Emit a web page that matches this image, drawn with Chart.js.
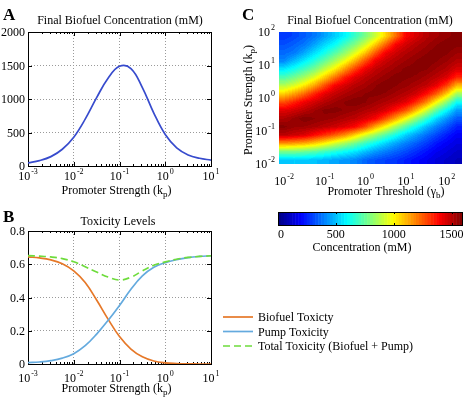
<!DOCTYPE html>
<html>
<head>
<meta charset="utf-8">
<script src="https://cdn.jsdelivr.net/npm/chart.js"></script>
<style>
  body { margin: 0; background: #fff; }
  #wrap { position: relative; width: 466px; height: 400px; overflow: hidden; }
  canvas { position: absolute; }
</style>
</head>
<body>
<div id="wrap">
  <canvas id="chartA" width="230" height="200" style="left:0;top:0"></canvas>
  <canvas id="chartB" width="466" height="200" style="left:0;top:200px"></canvas>
  <canvas id="chartC" width="236" height="205" style="left:230px;top:0"></canvas>
  <canvas id="colorbar" width="236" height="60" style="left:230px;top:200px"></canvas>
</div>
<script>
// ---- data ----
// A: final biofuel concentration vs promoter strength (kp = 10^exp)
const strengthExpA = [-3, -2.75, -2.5, -2.25, -2, -1.75, -1.5, -1.25, -1, -0.75, -0.5, -0.25, 0, 0.25, 0.5, 0.75, 1];
const concA = [45, 80, 140, 250, 430, 700, 1020, 1310, 1488, 1455, 1170, 790, 470, 270, 165, 115, 88];

// B: toxicity levels
const strengthExpB = [-3, -2.75, -2.5, -2.25, -2, -1.75, -1.5, -1.25, -1, -0.75, -0.5, -0.25, 0, 0.25, 0.5, 0.75, 1];
const biofuelTox = [0.644, 0.638, 0.626, 0.603, 0.56, 0.49, 0.385, 0.27, 0.165, 0.09, 0.043, 0.018, 0.007, 0.003, 0.001, 0, 0];
const pumpTox = [0.008, 0.012, 0.02, 0.035, 0.062, 0.11, 0.18, 0.262, 0.352, 0.45, 0.53, 0.582, 0.61, 0.628, 0.64, 0.647, 0.651];
const totalTox = [0.652, 0.649, 0.644, 0.634, 0.615, 0.585, 0.553, 0.523, 0.505, 0.522, 0.56, 0.594, 0.614, 0.63, 0.641, 0.647, 0.651];
const legendLabels = ['Biofuel Toxicty', 'Pump Toxicity', 'Total Toxicity (Biofuel + Pump)'];

// C: concentration map, rows = promoter strength exp (top to bottom), cols = threshold exp
const thresholdExpC = [-2, -1.75, -1.5, -1.25, -1, -0.75, -0.5, -0.25, 0, 0.25, 0.5, 0.75, 1, 1.25, 1.5, 1.75, 2, 2.25];
const strengthExpC = [1.875, 1.625, 1.375, 1.125, 0.875, 0.625, 0.375, 0.125, -0.125, -0.375, -0.625, -0.875, -1.125, -1.375, -1.625, -1.875];
const concC = [
  [278, 305, 340, 383, 450, 518, 585, 684, 783, 910, 1057, 1221, 1395, 1451, 1508, 1535, 1557, 1579],
  [320, 347, 382, 454, 534, 600, 701, 799, 922, 1073, 1237, 1398, 1461, 1507, 1535, 1564, 1584, 1577],
  [360, 387, 461, 544, 625, 721, 822, 943, 1083, 1255, 1406, 1468, 1511, 1537, 1561, 1588, 1572, 1544],
  [408, 493, 571, 652, 753, 856, 976, 1116, 1270, 1415, 1476, 1516, 1542, 1568, 1590, 1568, 1543, 1508],
  [562, 626, 702, 785, 902, 1016, 1159, 1303, 1422, 1487, 1520, 1548, 1575, 1579, 1569, 1536, 1507, 1451],
  [715, 772, 853, 951, 1079, 1212, 1351, 1439, 1494, 1526, 1555, 1581, 1572, 1559, 1529, 1496, 1446, 1331],
  [877, 943, 1030, 1141, 1275, 1403, 1460, 1504, 1531, 1564, 1590, 1567, 1547, 1518, 1487, 1422, 1297, 1110],
  [1068, 1141, 1234, 1342, 1432, 1484, 1520, 1546, 1568, 1577, 1560, 1531, 1504, 1465, 1378, 1247, 1072, 850],
  [1273, 1343, 1415, 1461, 1507, 1542, 1568, 1588, 1568, 1538, 1512, 1484, 1436, 1329, 1189, 993, 813, 609],
  [1436, 1465, 1498, 1537, 1575, 1579, 1560, 1542, 1513, 1490, 1448, 1361, 1262, 1097, 921, 737, 591, 440],
  [1516, 1548, 1586, 1566, 1552, 1536, 1512, 1489, 1448, 1397, 1273, 1132, 980, 827, 674, 534, 427, 333],
  [1575, 1544, 1538, 1520, 1497, 1468, 1436, 1389, 1282, 1120, 989, 847, 716, 603, 487, 397, 324, 243],
  [1493, 1471, 1446, 1379, 1316, 1247, 1168, 1055, 933, 827, 718, 620, 519, 442, 368, 303, 239, 185],
  [1167, 1144, 1118, 1072, 1004, 925, 850, 767, 677, 601, 525, 453, 394, 339, 288, 226, 186, 150],
  [783, 783, 764, 732, 693, 647, 604, 557, 499, 435, 392, 349, 312, 266, 221, 177, 149, 120],
  [513, 522, 518, 502, 482, 456, 434, 409, 354, 321, 296, 276, 241, 207, 176, 143, 118, 95]
];

// tick labels
const decadeExpsAB = [-3, -2, -1, 0, 1];
const decadeExpsC = [-2, -1, 0, 1, 2];
const concTicksA = [0, 500, 1000, 1500, 2000];
const toxTicks = [0, 0.2, 0.4, 0.6, 0.8];
const colorbarTicks = [0, 500, 1000, 1500];
const concMax = 1590;

// ---- helpers ----
const FONT = '"Liberation Serif", "Times New Roman", serif';

function jetColor(t) {
  const idx = Math.min(63, Math.max(0, Math.floor(t * 64)));
  const u = (idx + 0.5) / 64;
  const c = v => Math.round(255 * Math.min(1, Math.max(0, v)));
  return [c(1.5 - Math.abs(4 * u - 3)), c(1.5 - Math.abs(4 * u - 2)), c(1.5 - Math.abs(4 * u - 1))];
}

function bracket(arr, p) {
  const n = arr.length - 1;
  if (p <= arr[0]) return [0, 0, 0];
  if (p >= arr[n]) return [n, n, 0];
  let k = 0;
  while (arr[k + 1] < p) k++;
  return [k, k + 1, (p - arr[k]) / (arr[k + 1] - arr[k])];
}

function text(ctx, s, x, y, size, align, weight) {
  ctx.font = (weight || '') + ' ' + size + 'px ' + FONT;
  ctx.fillStyle = '#000';
  ctx.textAlign = align || 'left';
  ctx.textBaseline = 'alphabetic';
  ctx.fillText(s, x, y);
}

// 10^exp, baseline y
function pow10(ctx, x, y, exp, align) {
  const base = '10', sup = String(exp);
  ctx.font = '12px ' + FONT;
  const wb = ctx.measureText(base).width;
  ctx.font = '8px ' + FONT;
  const ws = ctx.measureText(sup).width;
  const total = wb + 1 + ws;
  const x0 = align === 'right' ? x - total : x - total / 2;
  text(ctx, base, x0, y, 12);
  text(ctx, sup, x0 + wb + 1, y - 6, 8);
}

// main + subscript + tail, centered at x, baseline y
function subText(ctx, main, sub, tail, x, y) {
  ctx.font = '12px ' + FONT;
  const w1 = ctx.measureText(main).width, w3 = ctx.measureText(tail).width;
  ctx.font = '9px ' + FONT;
  const w2 = ctx.measureText(sub).width;
  const x0 = x - (w1 + w2 + w3) / 2;
  text(ctx, main, x0, y, 12);
  text(ctx, sub, x0 + w1, y + 3, 9);
  text(ctx, tail, x0 + w1 + w2, y, 12);
}

function setTicks(values) {
  return scale => { scale.ticks = values.map(v => ({ value: v })); };
}

const gridOpts = { color: '#9a9a9a', lineWidth: 1, drawTicks: false };
const borderOpts = { display: false, dash: [1, 2] };

// frame, major/minor ticks for the line panels
function drawFrame(chart, yTicks) {
  const { ctx, chartArea: a, scales: { x, y } } = chart;
  ctx.save();
  ctx.strokeStyle = '#000';
  ctx.lineWidth = 1;
  ctx.beginPath();
  for (let d = decadeExpsAB[0]; d < decadeExpsAB[decadeExpsAB.length - 1]; d++) {
    for (let k = 2; k <= 9; k++) {
      const px = Math.round(x.getPixelForValue(k * Math.pow(10, d))) + 0.5;
      ctx.moveTo(px, a.bottom); ctx.lineTo(px, a.bottom - 2);
      ctx.moveTo(px, a.top); ctx.lineTo(px, a.top + 2);
    }
  }
  decadeExpsAB.forEach(e => {
    const px = Math.round(x.getPixelForValue(Math.pow(10, e))) + 0.5;
    ctx.moveTo(px, a.bottom); ctx.lineTo(px, a.bottom - 4);
    ctx.moveTo(px, a.top); ctx.lineTo(px, a.top + 4);
  });
  yTicks.forEach(v => {
    const py = Math.round(y.getPixelForValue(v)) + 0.5;
    ctx.moveTo(a.left, py); ctx.lineTo(a.left + 4, py);
    ctx.moveTo(a.right, py); ctx.lineTo(a.right - 4, py);
  });
  ctx.stroke();
  ctx.strokeRect(Math.round(a.left) + 0.5, Math.round(a.top) + 0.5,
                 Math.round(a.right - a.left), Math.round(a.bottom - a.top));
  ctx.restore();
}

// ---- panel A ----
new Chart(document.getElementById('chartA'), {
  type: 'scatter',
  data: {
    datasets: [{
      data: strengthExpA.map((e, i) => ({ x: Math.pow(10, e), y: concA[i] })),
      showLine: true,
      borderColor: 'rgb(55,75,205)',
      borderWidth: 1.7,
      pointRadius: 0,
      tension: 0.4
    }]
  },
  options: {
    responsive: false, animation: false, events: [],
    layout: { padding: { left: 28, top: 32, right: 19, bottom: 34 } },
    plugins: { legend: { display: false }, tooltip: { enabled: false } },
    scales: {
      x: { type: 'logarithmic', min: 1e-3, max: 10, afterBuildTicks: setTicks(decadeExpsAB.map(e => Math.pow(10, e))),
           afterFit: s => { s.height = 0; }, ticks: { display: false }, grid: gridOpts, border: borderOpts },
      y: { type: 'linear', min: 0, max: 2000, afterBuildTicks: setTicks(concTicksA),
           afterFit: s => { s.width = 0; }, ticks: { display: false }, grid: gridOpts, border: borderOpts }
    }
  },
  plugins: [{
    id: 'panelA',
    beforeDatasetsDraw(chart) { drawFrame(chart, concTicksA); },
    afterDraw(chart) {
      const { ctx, chartArea: a, scales: { x, y } } = chart;
      text(ctx, 'A', 3, 20, 17, 'left', 'bold');
      text(ctx, 'Final Biofuel Concentration (mM)', 120, 24, 12, 'center');
      concTicksA.forEach(v => text(ctx, String(v), 25, y.getPixelForValue(v) + 4, 12, 'right'));
      decadeExpsAB.forEach(e => pow10(ctx, x.getPixelForValue(Math.pow(10, e)), 180, e, 'center'));
      subText(ctx, 'Promoter Strength (k', 'p', ')', (a.left + a.right) / 2 - 3, 194);
    }
  }]
});

// ---- panel B ----
const toxColors = ['rgb(230,120,40)', 'rgb(100,170,222)', 'rgb(110,220,60)'];
const toxDash = [[], [], [7, 4]];
const toxSeries = [biofuelTox, pumpTox, totalTox];

new Chart(document.getElementById('chartB'), {
  type: 'scatter',
  data: {
    datasets: toxSeries.map((s, k) => ({
      label: legendLabels[k],
      data: strengthExpB.map((e, i) => ({ x: Math.pow(10, e), y: s[i] })),
      showLine: true,
      borderColor: toxColors[k],
      borderWidth: 1.7,
      borderDash: toxDash[k],
      pointRadius: 0,
      tension: 0.4,
      order: 2 - k
    }))
  },
  options: {
    responsive: false, animation: false, events: [],
    layout: { padding: { left: 28, top: 31, right: 255, bottom: 36 } },
    plugins: { legend: { display: false }, tooltip: { enabled: false } },
    scales: {
      x: { type: 'logarithmic', min: 1e-3, max: 10, afterBuildTicks: setTicks(decadeExpsAB.map(e => Math.pow(10, e))),
           afterFit: s => { s.height = 0; }, ticks: { display: false }, grid: gridOpts, border: borderOpts },
      y: { type: 'linear', min: 0, max: 0.8, afterBuildTicks: setTicks(toxTicks),
           afterFit: s => { s.width = 0; }, ticks: { display: false }, grid: gridOpts, border: borderOpts }
    }
  },
  plugins: [{
    id: 'panelB',
    beforeDatasetsDraw(chart) { drawFrame(chart, toxTicks); },
    afterDraw(chart) {
      const { ctx, chartArea: a, scales: { x, y } } = chart;
      text(ctx, 'B', 3, 22, 17, 'left', 'bold');
      text(ctx, 'Toxicity Levels', 118, 25, 12, 'center');
      toxTicks.forEach(v => text(ctx, v === 0 ? '0' : v.toFixed(1), 25, y.getPixelForValue(v) + 4, 12, 'right'));
      decadeExpsAB.forEach(e => pow10(ctx, x.getPixelForValue(Math.pow(10, e)), 182, e, 'center'));
      subText(ctx, 'Promoter Strength (k', 'p', ')', (a.left + a.right) / 2 - 3, 192);
      // legend
      chart.data.datasets.forEach((ds, k) => {
        const ly = 117 + k * 14.5;
        ctx.save();
        ctx.strokeStyle = ds.borderColor;
        ctx.lineWidth = 1.7;
        ctx.setLineDash(ds.borderDash);
        ctx.beginPath(); ctx.moveTo(223, ly); ctx.lineTo(253, ly); ctx.stroke();
        ctx.restore();
        text(ctx, ds.label, 258, ly + 4, 12, 'left');
      });
    }
  }]
});

// ---- panel C ----
new Chart(document.getElementById('chartC'), {
  type: 'scatter',
  data: { datasets: [{ data: [] }] },
  options: {
    responsive: false, animation: false, events: [],
    layout: { padding: { left: 49, top: 32, right: 4, bottom: 41 } },
    plugins: { legend: { display: false }, tooltip: { enabled: false } },
    scales: {
      x: { type: 'logarithmic', min: Math.pow(10, -2.125), max: Math.pow(10, 2.375),
           afterBuildTicks: setTicks(decadeExpsC.map(e => Math.pow(10, e))),
           afterFit: s => { s.height = 0; }, ticks: { display: false }, grid: { display: false }, border: { display: false } },
      y: { type: 'logarithmic', min: 1e-2, max: 1e2,
           afterBuildTicks: setTicks(decadeExpsC.map(e => Math.pow(10, e))),
           afterFit: s => { s.width = 0; }, ticks: { display: false }, grid: { display: false }, border: { display: false } }
    }
  },
  plugins: [{
    id: 'heatmap',
    beforeDatasetsDraw(chart) {
      const { ctx, chartArea: a, scales: { x, y } } = chart;
      const cx = thresholdExpC.map(e => x.getPixelForValue(Math.pow(10, e)));
      const cy = strengthExpC.map(e => y.getPixelForValue(Math.pow(10, e)));
      const w = Math.round(a.right - a.left), h = Math.round(a.bottom - a.top);
      const off = document.createElement('canvas');
      off.width = w; off.height = h;
      const octx = off.getContext('2d');
      const img = octx.createImageData(w, h);
      for (let j = 0; j < h; j++) {
        const [r0, r1, fy] = bracket(cy, a.top + j + 0.5);
        for (let i = 0; i < w; i++) {
          const [c0, c1, fx] = bracket(cx, a.left + i + 0.5);
          const v = (1 - fy) * ((1 - fx) * concC[r0][c0] + fx * concC[r0][c1]) +
                    fy * ((1 - fx) * concC[r1][c0] + fx * concC[r1][c1]);
          const [R, G, B] = jetColor(v / concMax);
          const p = (j * w + i) * 4;
          img.data[p] = R; img.data[p + 1] = G; img.data[p + 2] = B; img.data[p + 3] = 255;
        }
      }
      octx.putImageData(img, 0, 0);
      ctx.drawImage(off, Math.round(a.left), Math.round(a.top));
    },
    afterDraw(chart) {
      const { ctx, chartArea: a, scales: { x, y } } = chart;
      text(ctx, 'C', 12, 20, 17, 'left', 'bold');
      text(ctx, 'Final Biofuel Concentration (mM)', 140, 24, 12, 'center');
      decadeExpsC.forEach(e => pow10(ctx, 45, y.getPixelForValue(Math.pow(10, e)) + 4, e, 'right'));
      decadeExpsC.forEach(e => pow10(ctx, x.getPixelForValue(Math.pow(10, e)), 185, e, 'center'));
      subText(ctx, 'Promoter Threshold (\u03b3', 'b', ')', 156, 195);
      ctx.save();
      ctx.translate(22, (a.top + a.bottom) / 2 + 2);
      ctx.rotate(-Math.PI / 2);
      subText(ctx, 'Promoter Strength (k', 'p', ')', 0, 0);
      ctx.restore();
    }
  }]
});

// ---- colorbar ----
new Chart(document.getElementById('colorbar'), {
  type: 'scatter',
  data: { datasets: [{ data: [] }] },
  options: {
    responsive: false, animation: false, events: [],
    layout: { padding: { left: 48, top: 12, right: 4, bottom: 35 } },
    plugins: { legend: { display: false }, tooltip: { enabled: false } },
    scales: {
      x: { type: 'linear', min: 0, max: concMax, afterBuildTicks: setTicks(colorbarTicks),
           afterFit: s => { s.height = 0; }, ticks: { display: false }, grid: { display: false }, border: { display: false } },
      y: { type: 'linear', min: 0, max: 1, display: false }
    }
  },
  plugins: [{
    id: 'bar',
    beforeDatasetsDraw(chart) {
      const { ctx, chartArea: a, scales: { x } } = chart;
      for (let k = 0; k < 64; k++) {
        const x0 = x.getPixelForValue(k * concMax / 64), x1 = x.getPixelForValue((k + 1) * concMax / 64);
        const [R, G, B] = jetColor((k + 0.5) / 64);
        ctx.fillStyle = `rgb(${R},${G},${B})`;
        ctx.fillRect(x0, a.top, x1 - x0 + 0.5, a.bottom - a.top);
      }
      ctx.save();
      ctx.strokeStyle = '#000';
      ctx.lineWidth = 1;
      ctx.beginPath();
      colorbarTicks.forEach(v => {
        const px = Math.round(x.getPixelForValue(v)) + 0.5;
        ctx.moveTo(px, a.top); ctx.lineTo(px, a.top + 2);
        ctx.moveTo(px, a.bottom); ctx.lineTo(px, a.bottom - 2);
      });
      ctx.stroke();
      ctx.strokeRect(Math.round(a.left) + 0.5, Math.round(a.top) + 0.5,
                     Math.round(a.right - a.left), Math.round(a.bottom - a.top));
      ctx.restore();
      colorbarTicks.forEach(v => text(ctx, String(v), x.getPixelForValue(v) + (v === 0 ? 3 : 0), 38, 12, 'center'));
      text(ctx, 'Concentration (mM)', 132, 51, 12, 'center');
    }
  }]
});
</script>
</body>
</html>
